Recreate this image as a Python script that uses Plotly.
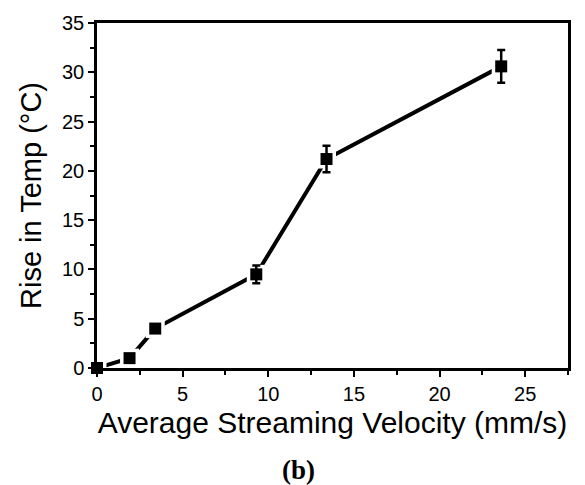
import plotly.graph_objects as go

# Measured data
velocity = [0.0, 1.9, 3.4, 9.3, 13.4, 23.6]       # mm/s
temp_rise = [0.0, 1.0, 4.0, 9.5, 21.2, 30.6]      # °C
temp_err = [0.0, 0.0, 0.2, 0.9, 1.35, 1.65]       # °C

x_ticks = [0, 5, 10, 15, 20, 25]
y_ticks = [0, 5, 10, 15, 20, 25, 30, 35]

fig = go.Figure()

# connecting line, with white halos that open a small gap around each point
fig.add_trace(go.Scatter(
    x=velocity, y=temp_rise, mode="lines+markers",
    line=dict(color="black", width=4),
    marker=dict(symbol="square", size=19, color="white", line=dict(width=0)),
    showlegend=False, cliponaxis=False, hoverinfo="skip",
))

# data points with error bars
fig.add_trace(go.Scatter(
    x=velocity, y=temp_rise, mode="markers",
    marker=dict(symbol="square", size=12, color="black", line=dict(width=0)),
    error_y=dict(type="data", array=temp_err, visible=True,
                 color="black", thickness=2.5, width=4),
    showlegend=False, cliponaxis=False,
))

axis_common = dict(
    showline=True, linecolor="black", linewidth=2.5, mirror=True,
    ticks="outside", ticklen=6, tickwidth=2, tickcolor="black",
    showgrid=False, zeroline=False,
    tickfont=dict(family="Liberation Sans, Arial", size=20, color="black"),
    minor=dict(ticks="outside", ticklen=4, tickwidth=2, tickcolor="black"),
)

fig.update_xaxes(
    range=[0, 27.5], tickvals=x_ticks, ticktext=[str(v) for v in x_ticks],
    minor_dtick=2.5,
    title=dict(text="Average Streaming Velocity (mm/s)", standoff=9,
               font=dict(family="Liberation Sans, Arial", size=30, color="black")),
    **axis_common,
)
fig.update_yaxes(
    range=[0, 35], tickvals=y_ticks, ticktext=[str(v) for v in y_ticks],
    minor_dtick=2.5,
    title=dict(text="Rise in Temp (°C)", standoff=12,
               font=dict(family="Liberation Sans, Arial", size=29, color="black")),
    **axis_common,
)

fig.add_annotation(
    text="<b>(b)</b>", xref="paper", yref="paper", x=0.427, y=-0.295,
    xanchor="center", yanchor="middle", showarrow=False,
    font=dict(family="Liberation Serif, Times New Roman", size=27, color="black"),
)

fig.update_layout(
    width=585, height=485,
    margin=dict(l=97, r=17, t=20, b=117),
    paper_bgcolor="white", plot_bgcolor="white",
)

fig.write_html("out.html")
